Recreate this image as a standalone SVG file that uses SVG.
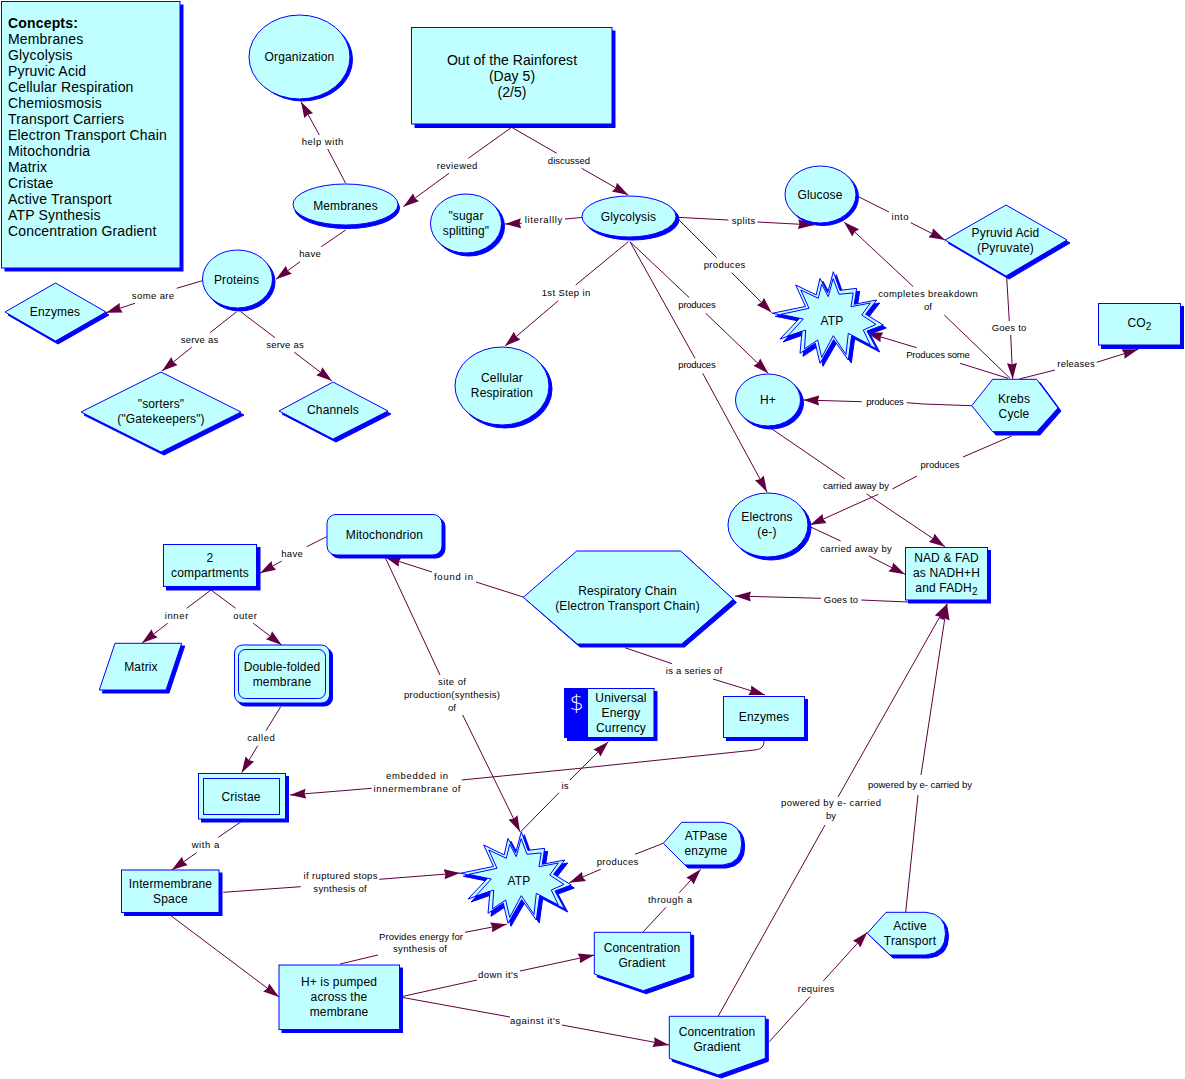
<svg xmlns="http://www.w3.org/2000/svg" xmlns:xlink="http://www.w3.org/1999/xlink" width="1185" height="1079" viewBox="0 0 1185 1079">
<style>
text{font-family:"Liberation Sans",Arial,sans-serif;fill:#000;text-anchor:middle}
.n{font-size:12px;letter-spacing:.15px}
.t{font-size:14px;letter-spacing:.05px}
.l{font-size:9.5px}
.c{font-size:14px;text-anchor:start;letter-spacing:.17px}
.b{font-weight:bold}
.m{fill:#BFFFFF;stroke:#0000FF;stroke-width:1}
.o{fill:none;stroke:#0000FF;stroke-width:1}
.s{fill:#0000FF;stroke:#0000FF;stroke-width:1}
.k{fill:none;stroke:#600040;stroke-width:1;marker-end:url(#a)}
</style>
<defs>
<marker id="a" markerUnits="userSpaceOnUse" markerWidth="18" markerHeight="12" refX="16" refY="5.500" orient="auto"><path d="M0 .5L16 5.500L0 10.500L1.500 5.500Z" fill="#600040"/></marker>
<polygon id="star" points="1.300,-49.300 8,-30.600 24.700,-32.700 22.200,-16.700 44.700,-21 33.600,-6.800 51.300,4 35,10 44.700,28 19.600,14.800 16.300,39 1.700,18.700 -12,42.300 -16.700,22.200 -32,32.300 -30,10.300 -52,18 -32.700,-2.300 -59.700,-7.700 -26.500,-14.600 -36.300,-36 -15.800,-26.100 -12,-42.700 -4.300,-28.200"/>
<polygon id="starin" points="1.100,-42.400 7,-26.700 21.200,-28.100 19,-14.300 38.400,-18 29.700,-6 44,3.400 31.300,9 38.400,24 16.300,12.300 14,33.500 1.300,14.700 -10.300,36.400 -14.300,19 -27.500,27.800 -26.300,9 -44.700,15.500 -28.700,-2 -51.300,-6.600 -23,-12.700 -31.200,-31 -13.700,-22.700 -10.300,-36.700 -3.700,-24.300"/>
</defs>
<g id="connectors">
<path class="k" d="M345.700 183.300L327.700 149M319.300 135L301 101.700"/>
<path class="k" d="M345.700 230L321.300 246.700M300 261.700L276 279.300"/>
<path class="k" d="M202.300 280.700L176.700 288.300M135 303.300L106 312.700"/>
<path class="k" d="M236.700 311.700L210 332.700M191.700 347.300L162 371"/>
<path class="k" d="M240.700 311.700L275 337.700M294.300 352.300L332 381"/>
<path class="k" d="M511.700 127.300L468.300 158.300M449 173.300L403.300 206.700"/>
<path class="k" d="M511.700 127.300L556.700 153.300M581.700 168.300L628.300 195"/>
<path class="k" d="M583.300 217.300L565 219M521.700 223.300L505 224"/>
<path class="k" d="M677.300 217.300L728.300 220M757.300 222L814 225"/>
<path class="k" d="M859 197L889 212M910.700 222.700L945 240"/>
<path class="k" d="M1006.700 277.300L1009.300 321M1010.700 335L1012.700 379"/>
<path class="k" d="M1010 378.300L944.300 315M913.300 286.700L844 222"/>
<path class="k" d="M1008 378.300L960 363.300M916.700 347.700L866.700 332.700"/>
<path class="k" d="M1019.300 379L1055 370M1096.700 362.300L1138.300 349.300"/>
<path class="k" d="M971.700 405.700L923 404L906.700 402.700M861.700 401.700L803.300 400"/>
<path class="k" d="M1011.700 436L963 457M917 476L892.300 489M878.300 494.300L810 525"/>
<path class="k" d="M772 429L845 479M866.700 494L945 546.700"/>
<path class="k" d="M810 526.700L840.700 541M869 556L905 574.300"/>
<path class="k" d="M908 602L876.700 600.700L861.300 600M821 598.300L735 596"/>
<path class="k" d="M630 241.700L689.300 297.700M705.700 313.300L768.300 373.300"/>
<path class="k" d="M677.300 218.300L716.700 257.700M731.700 272.700L771.700 312.700"/>
<path class="k" d="M630 241.700L695 358.300M702.700 373.300L767 492"/>
<path class="k" d="M628.300 241.700L575.700 285M558.300 300.700L505 346"/>
<path class="k" d="M326.700 536.700L306.700 546.700M281.700 561L260 573.300"/>
<path class="k" d="M211 590L186.700 608.300M167.700 623.300L142 643"/>
<path class="k" d="M211 590L235.700 608.300M253.300 623.300L281.700 645"/>
<path class="k" d="M280.700 706.700L266 730.700M257.700 745.700L241.700 772.700"/>
<path class="k" d="M240.700 822L218.300 837.300M196.700 852.700L171.700 870"/>
<path class="k" d="M764 740.700C764 746 762 749 755 750L583 768L461.700 780M371.700 788.300L290 795"/>
<path class="k" d="M625 647.700L672 663.700M713 679L765 695"/>
<path class="k" d="M524 597.300L476 582M432 572L385 557"/>
<path class="k" d="M385 557L440 675M462.700 715L520 831.700"/>
<path class="k" d="M520.700 831.700L559 792.700M570 780L608.300 741.700"/>
<path class="k" d="M663.300 843.300L635 854.300M600.700 869.300L569.300 882.700"/>
<path class="k" d="M643.300 931.700L666 907.300M679.300 892.700L700.700 869.300"/>
<path class="k" d="M223.300 892.300L300.700 886.700M379.300 879.300L460 873"/>
<path class="k" d="M170 915L279 997"/>
<path class="k" d="M340 964L378 955M465 932.300L506.700 924.300"/>
<path class="k" d="M400 997L477 980M520 971L594.300 955"/>
<path class="k" d="M400 997L510 1017M562 1025L669 1045"/>
<path class="k" d="M718.300 1016L825 825M838 797L947 604"/>
<path class="k" d="M769.300 1041.700L810 996.700M823.300 981L867.300 932.300"/>
<path class="k" d="M905.700 912L918 795M921 775L947 604"/>
</g>
<g id="concepts">
<rect class="s" x="5" y="5" width="178" height="266"/>
<rect class="m" x="1.500" y="1.500" width="178.500" height="266.500"/>
<text class="c b" x="8" y="28">Concepts:</text>
<text class="c" x="8" y="44">Membranes</text>
<text class="c" x="8" y="60">Glycolysis</text>
<text class="c" x="8" y="76">Pyruvic Acid</text>
<text class="c" x="8" y="92">Cellular Respiration</text>
<text class="c" x="8" y="108">Chemiosmosis</text>
<text class="c" x="8" y="124">Transport Carriers</text>
<text class="c" x="8" y="140">Electron Transport Chain</text>
<text class="c" x="8" y="156">Mitochondria</text>
<text class="c" x="8" y="172">Matrix</text>
<text class="c" x="8" y="188">Cristae</text>
<text class="c" x="8" y="204">Active Transport</text>
<text class="c" x="8" y="220">ATP Synthesis</text>
<text class="c" x="8" y="236">Concentration Gradient</text>
</g>
<g id="organization"><ellipse class="s" cx="302.500" cy="59.500" rx="50" ry="41.500"/><ellipse class="m" cx="299.500" cy="57" rx="50.500" ry="42"/><text class="n" x="299.500" y="61">Organization</text></g>
<g id="rainforest"><rect class="s" x="415" y="31" width="200" height="96.500"/><rect class="m" x="411.500" y="27.500" width="200.500" height="96.500"/><text class="t" x="512" y="65">Out of the Rainforest</text><text class="t" x="512" y="81">(Day 5)</text><text class="t" x="512" y="97">(2/5)</text></g>
<g id="membranes"><ellipse class="s" cx="347" cy="208" rx="52.500" ry="20.500"/><ellipse class="m" cx="345.500" cy="204.500" rx="52.500" ry="20.500"/><text class="n" x="345.500" y="210">Membranes</text></g>
<g id="proteins"><ellipse class="s" cx="240" cy="282" rx="35" ry="29"/><ellipse class="m" cx="237.500" cy="279" rx="35" ry="29"/><text class="n" x="236.500" y="284">Proteins</text></g>
<g id="enzymes1"><polygon class="s" points="8,315 58,286 109,315 58,344"/><polygon class="m" points="5,312 55.500,283 106,312 55.500,341"/><text class="n" x="55" y="316">Enzymes</text></g>
<g id="sorters"><polygon class="s" points="84,415 164,375 244,415 164,455"/><polygon class="m" points="81,412 161,372 241,412 161,452"/><text class="n" x="161" y="408">"sorters"</text><text class="n" x="161" y="423">("Gatekeepers")</text></g>
<g id="channels"><polygon class="s" points="282,414 336,385 391,414 336,442"/><polygon class="m" points="279,411 333,382 388,411 333,439"/><text class="n" x="333" y="414">Channels</text></g>
<g id="sugar"><ellipse class="s" cx="469" cy="226.500" rx="35.500" ry="29.500"/><ellipse class="m" cx="466" cy="223.500" rx="35.500" ry="29.500"/><text class="n" x="466" y="220">"sugar</text><text class="n" x="466" y="235">splitting"</text></g>
<g id="glycolysis"><ellipse class="s" cx="632" cy="219.500" rx="47" ry="20.500"/><ellipse class="m" cx="629" cy="216.500" rx="47" ry="20.500"/><text class="n" x="628.500" y="221">Glycolysis</text></g>
<g id="glucose"><ellipse class="s" cx="823" cy="197" rx="35.500" ry="28.500"/><ellipse class="m" cx="820.500" cy="194.500" rx="35.500" ry="28.500"/><text class="n" x="820" y="199">Glucose</text></g>
<g id="pyruvid"><polygon class="s" points="948,243 1009,208 1070,243 1009,279"/><polygon class="m" points="945,240 1006,205 1067,240 1006,276"/><text class="n" x="1005.500" y="237">Pyruvid Acid</text><text class="n" x="1005.500" y="252">(Pyruvate)</text></g>
<g id="atp1"><use xlink:href="#star" href="#star" class="s" transform="translate(835,324)"/><use xlink:href="#star" href="#star" class="m" transform="translate(832,321)"/><use xlink:href="#starin" href="#starin" class="o" transform="translate(832,321)"/><text class="n" x="832" y="325">ATP</text></g>
<g id="cellular"><ellipse class="s" cx="505" cy="389" rx="47" ry="39"/><ellipse class="m" cx="502" cy="386" rx="47" ry="39"/><text class="n" x="502" y="382">Cellular</text><text class="n" x="502" y="397">Respiration</text></g>
<g id="h"><ellipse class="s" cx="771" cy="403" rx="32.500" ry="26"/><ellipse class="m" cx="768" cy="400" rx="32.500" ry="26"/><text class="n" x="768" y="404">H+</text></g>
<g id="krebs"><polygon class="s" points="975,409 996,382.500 1040,382.500 1061,411 1040,435 996,435"/><polygon class="m" points="971.700,405.700 992.700,379.300 1036.700,379.300 1058,408 1036.700,431.700 992.700,431.700"/><text class="n" x="1014" y="403">Krebs</text><text class="n" x="1014" y="418">Cycle</text></g>
<g id="co2"><rect class="s" x="1101.500" y="306.500" width="82" height="42"/><rect class="m" x="1098.500" y="303.500" width="82" height="41.500"/><text class="n" x="1139.500" y="327">CO<tspan font-size="10" dy="3">2</tspan></text></g>
<g id="electrons"><ellipse class="s" cx="771" cy="528" rx="40" ry="32"/><ellipse class="m" cx="768" cy="525" rx="40" ry="32"/><text class="n" x="767" y="521">Electrons</text><text class="n" x="767" y="536">(e-)</text></g>
<g id="nad"><rect class="s" x="908.500" y="550.500" width="82" height="52.500"/><rect class="m" x="905.500" y="547.500" width="82" height="52.500"/><text class="n" x="946.500" y="562">NAD &amp; FAD</text><text class="n" x="946.500" y="577">as NADH+H</text><text class="n" x="946.500" y="592">and FADH<tspan font-size="10" dy="3">2</tspan></text></g>
<g id="resp"><polygon class="s" points="526.500,600 580,554 684,554 736.500,602.500 684.500,647 580,647"/><polygon class="m" points="523.300,597.300 576.700,551 680.700,551 733.300,599.300 681.700,644 577.300,644"/><text class="n" x="627.500" y="595">Respiratory Chain</text><text class="n" x="627.500" y="610">(Electron Transport Chain)</text></g>
<g id="mitochondrion"><rect class="s" x="330" y="517.500" width="115" height="40.500" rx="9"/><rect class="m" x="327" y="514.500" width="115" height="40.500" rx="9"/><text class="n" x="384.500" y="539">Mitochondrion</text></g>
<g id="comp"><rect class="s" x="166.500" y="547.500" width="93.500" height="42.500"/><rect class="m" x="163.500" y="544.500" width="93" height="42"/><text class="n" x="210" y="562">2</text><text class="n" x="210" y="577">compartments</text></g>
<g id="matrix"><polygon class="s" points="118,646 184.700,646 169,693 102.300,693"/><polygon class="m" points="115,643.300 181.700,643.300 166,690 99.300,690"/><text class="n" x="141" y="671">Matrix</text></g>
<g id="double"><rect class="s" x="237.500" y="648" width="95" height="58" rx="8"/><rect class="m" x="234.500" y="645" width="95" height="58" rx="8"/><rect class="o" x="238.500" y="649.500" width="87" height="49" rx="7"/><text class="n" x="282" y="671">Double-folded</text><text class="n" x="282" y="686">membrane</text></g>
<g id="cristae"><rect class="s" x="201.500" y="776.500" width="87" height="45.500"/><rect class="m" x="198.500" y="773.500" width="87" height="45.500"/><rect class="o" x="203.500" y="778.500" width="76" height="36"/><text class="n" x="241" y="801">Cristae</text></g>
<g id="inter"><rect class="s" x="124.500" y="873" width="97.500" height="42.500"/><rect class="m" x="121.500" y="870" width="97.500" height="42.500"/><text class="n" x="170.500" y="888">Intermembrane</text><text class="n" x="170.500" y="903">Space</text></g>
<g id="pumped"><rect class="s" x="282" y="968" width="120.500" height="64.500"/><rect class="m" x="279" y="965" width="120.500" height="64.500"/><text class="n" x="339" y="986">H+ is pumped</text><text class="n" x="339" y="1001">across the</text><text class="n" x="339" y="1016">membrane</text></g>
<g id="universal"><rect class="s" x="567.500" y="691.500" width="89.500" height="49"/><rect class="s" x="564.500" y="688.500" width="23" height="49"/><rect class="m" x="587.500" y="688.500" width="66.500" height="49"/><text x="576.500" y="710" font-size="22" font-weight="200" style="fill:#fff;font-family:'DejaVu Sans',sans-serif">$</text><text class="n" x="621" y="702">Universal</text><text class="n" x="621" y="717">Energy</text><text class="n" x="621" y="732">Currency</text></g>
<g id="enzymes2"><rect class="s" x="726.500" y="699.500" width="81" height="41"/><rect class="m" x="723.500" y="696.500" width="81" height="41"/><text class="n" x="764" y="721">Enzymes</text></g>
<g id="atpase"><path class="s" d="M666.300 846.300L684.700 825.300H726Q744.700 827 744.700 846.500Q744.700 866 726 868H688Z"/><path class="m" d="M663.300 843.300L681.700 822.300H723Q741.700 824 741.700 843.500Q741.700 863 723 865H685Z"/><text class="n" x="706" y="840">ATPase</text><text class="n" x="706" y="855">enzyme</text></g>
<g id="atp2"><use xlink:href="#star" href="#star" class="s" transform="translate(523,884)"/><use xlink:href="#star" href="#star" class="m" transform="translate(520,881)"/><use xlink:href="#starin" href="#starin" class="o" transform="translate(520,881)"/><text class="n" x="519" y="885">ATP</text></g>
<g id="grad1"><polygon class="s" points="597.300,935.300 693.700,935.300 693.700,977 646.300,993.700 597.300,977"/><polygon class="m" points="594.300,932.300 690.700,932.300 690.700,974 643.300,990.700 594.300,974"/><text class="n" x="642" y="952">Concentration</text><text class="n" x="642" y="967">Gradient</text></g>
<g id="grad2"><polygon class="s" points="672.300,1019.300 768.300,1019.300 768.300,1061.300 721.300,1078 672.300,1061.300"/><polygon class="m" points="669.300,1016.300 765.300,1016.300 765.300,1058.300 718.300,1075 669.300,1058.300"/><text class="n" x="717" y="1036">Concentration</text><text class="n" x="717" y="1051">Gradient</text></g>
<g id="active"><path class="s" d="M870.300 936.300L889 915.300H929Q948.500 917 948.500 936.500Q948.500 956 929 958H893Z"/><path class="m" d="M867.300 933.300L886 912.300H926Q945.500 914 945.500 933.500Q945.500 953 926 955H890Z"/><text class="n" x="910" y="930">Active</text><text class="n" x="910" y="945">Transport</text></g>
<g id="labels">
<text class="l" x="322.500" y="145" textLength="41.700">help with</text>
<text class="l" x="310" y="257" textLength="21.700">have</text>
<text class="l" x="153" y="299" textLength="42.300">some are</text>
<text class="l" x="199.500" y="343" textLength="37.700">serve as</text>
<text class="l" x="285" y="348" textLength="37.700">serve as</text>
<text class="l" x="457" y="169" textLength="40.700">reviewed</text>
<text class="l" x="569" y="164" textLength="42.300">discussed</text>
<text class="l" x="543.500" y="223" textLength="37.700">literallly</text>
<text class="l" x="743.500" y="224" textLength="23.700">splits</text>
<text class="l" x="900" y="220" textLength="17">into</text>
<text class="l" x="1009" y="331" textLength="34.700">Goes to</text>
<text class="l" x="928" y="297" textLength="99.700">completes breakdown</text>
<text class="l" x="928" y="310">of</text>
<text class="l" x="938" y="358" textLength="63.700">Produces some</text>
<text class="l" x="1076" y="367" textLength="37.300">releases</text>
<text class="l" x="885" y="405" textLength="37.700">produces</text>
<text class="l" x="940" y="468" textLength="39">produces</text>
<text class="l" x="856" y="489" textLength="66">carried away by</text>
<text class="l" x="856" y="552" textLength="71.700">carried away by</text>
<text class="l" x="841" y="603" textLength="34.300">Goes to</text>
<text class="l" x="697" y="308" textLength="37.300">produces</text>
<text class="l" x="724.500" y="268" textLength="41.700">produces</text>
<text class="l" x="697" y="368" textLength="37.300">produces</text>
<text class="l" x="566" y="296" textLength="48.700">1st Step in</text>
<text class="l" x="292" y="557" textLength="21.700">have</text>
<text class="l" x="176.500" y="619" textLength="23.700">inner</text>
<text class="l" x="245" y="619" textLength="23.700">outer</text>
<text class="l" x="261" y="741" textLength="27.700">called</text>
<text class="l" x="205.500" y="848" textLength="27.700">with a</text>
<text class="l" x="417" y="779" textLength="62">embedded in</text>
<text class="l" x="417" y="792" textLength="87">innermembrane of</text>
<text class="l" x="694" y="674" textLength="56.300">is a series of</text>
<text class="l" x="453.500" y="580" textLength="39">found in</text>
<text class="l" x="452" y="685" textLength="28">site of</text>
<text class="l" x="452" y="698" textLength="96">production(synthesis)</text>
<text class="l" x="452" y="711">of</text>
<text class="l" x="565" y="789">is</text>
<text class="l" x="617.500" y="865" textLength="41.700">produces</text>
<text class="l" x="670" y="903" textLength="44">through a</text>
<text class="l" x="340.500" y="879" textLength="74">if ruptured stops</text>
<text class="l" x="340" y="892" textLength="53.300">synthesis of</text>
<text class="l" x="421" y="940" textLength="84">Provides energy for</text>
<text class="l" x="420" y="952" textLength="54">synthesis of</text>
<text class="l" x="498" y="978" textLength="40">down it's</text>
<text class="l" x="535" y="1024" textLength="50">against it's</text>
<text class="l" x="831" y="806" textLength="100">powered by e- carried</text>
<text class="l" x="831" y="819">by</text>
<text class="l" x="816" y="992" textLength="36.700">requires</text>
<text class="l" x="920" y="788" textLength="104">powered by e- carried by</text>
</g>
</svg>
